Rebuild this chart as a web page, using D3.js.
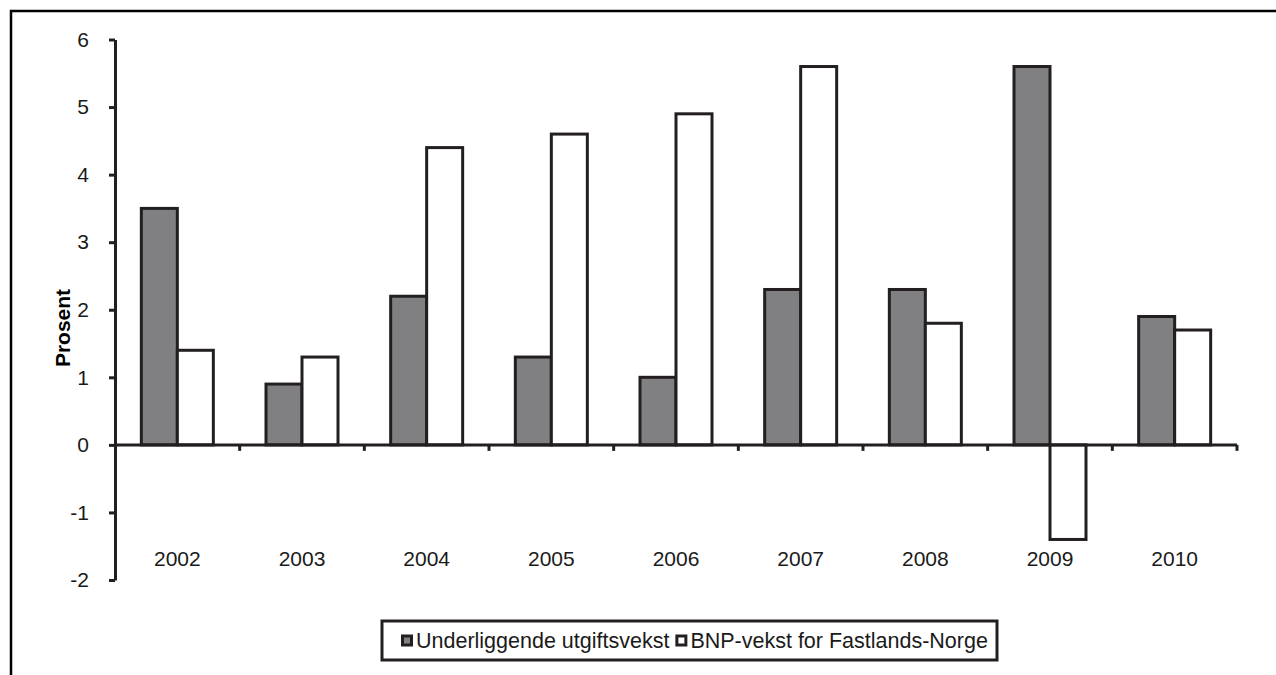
<!DOCTYPE html>
<html>
<head>
<meta charset="utf-8">
<script src="https://cdn.jsdelivr.net/npm/d3@7"></script>
<style>
  body { margin: 0; background: #fff; }
  svg { display: block; font-family: "Liberation Sans", Arial, sans-serif; }
</style>
</head>
<body>
<div class="main"></div>
<script>
// data
const years = ["2002", "2003", "2004", "2005", "2006", "2007", "2008", "2009", "2010"];
const utgiftsvekst = [3.5, 0.9, 2.2, 1.3, 1.0, 2.3, 2.3, 5.6, 1.9];
const bnpVekst = [1.4, 1.3, 4.4, 4.6, 4.9, 5.6, 1.8, -1.4, 1.7];
const seriesNames = ["Underliggende utgiftsvekst", "BNP-vekst for Fastlands-Norge"];
const yTicks = [-2, -1, 0, 1, 2, 3, 4, 5, 6];

const w = 1276;
const h = 675;
const ink = "#231f20";
const colors = ["#808083", "#ffffff"];
const fs = 21;

const svg = d3.select(".main")
  .append("svg")
  .attr("width", w)
  .attr("height", h);

// outer frame (left + top only, like the cropped original)
svg.append("path")
  .attr("d", "M11,675 V11 H1276")
  .attr("fill", "none")
  .attr("stroke", "#000")
  .attr("stroke-width", 2.5);

//scaling
const xScale = d3.scaleBand()
  .domain(years)
  .range([115, 1237]);

const yScale = d3.scaleLinear()
  .domain([-2, 6])
  .range([580, 39.5]);

const inner = d3.scaleBand()
  .domain([0, 1])
  .range([0, 72]);
const groupOffset = (xScale.bandwidth() - 72) / 2;

const data = years.map((y, i) => ({ year: y, vals: [utgiftsvekst[i], bnpVekst[i]] }));

// bars
const groups = svg.selectAll(".grp")
  .data(data)
  .enter()
  .append("g")
  .attr("transform", d => "translate(" + (xScale(d.year) + groupOffset) + ",0)");

groups.selectAll("rect")
  .data(d => d.vals.map((v, k) => ({ v: v, k: k })))
  .enter()
  .append("rect")
  .attr("x", d => inner(d.k))
  .attr("width", inner.bandwidth())
  .attr("y", d => yScale(Math.max(0, d.v)))
  .attr("height", d => Math.abs(yScale(d.v) - yScale(0)))
  .attr("fill", d => colors[d.k])
  .attr("stroke", ink)
  .attr("stroke-width", 3);

// y axis
const yAxis = d3.axisLeft(yScale)
  .tickValues(yTicks)
  .tickFormat(d => String(d))
  .tickSizeInner(6)
  .tickSizeOuter(0)
  .tickPadding(20);

const gy = svg.append("g")
  .attr("transform", "translate(115,0)")
  .call(yAxis);
gy.attr("font-size", fs).attr("font-family", "Liberation Sans, Arial, sans-serif");
gy.select(".domain").attr("stroke", ink).attr("stroke-width", 3);
gy.selectAll(".tick line").attr("stroke", ink).attr("stroke-width", 3);
gy.selectAll(".tick text").attr("fill", "#1a1a1a");

// x axis at zero, ticks between categories
const bounds = years.map(y => xScale(y) + xScale.bandwidth());
const gx = svg.append("g");
gx.append("line")
  .attr("x1", 115)
  .attr("x2", xScale.range()[1])
  .attr("y1", yScale(0))
  .attr("y2", yScale(0))
  .attr("stroke", ink)
  .attr("stroke-width", 3);
gx.selectAll(".xt")
  .data(bounds)
  .enter()
  .append("line")
  .attr("x1", d => d)
  .attr("x2", d => d)
  .attr("y1", yScale(0))
  .attr("y2", yScale(0) + 6)
  .attr("stroke", ink)
  .attr("stroke-width", 3);

svg.selectAll(".yearlabel")
  .data(years)
  .enter()
  .append("text")
  .attr("x", d => xScale(d) + xScale.bandwidth() / 2)
  .attr("y", 566)
  .attr("text-anchor", "middle")
  .attr("font-size", fs)
  .attr("fill", "#1a1a1a")
  .text(d => d);

// y title
svg.append("text")
  .attr("transform", "translate(70,328) rotate(-90)")
  .attr("text-anchor", "middle")
  .attr("font-size", 21)
  .attr("font-weight", "bold")
  .text("Prosent");

// legend
const lg = svg.append("g");
lg.append("rect")
  .attr("x", 382)
  .attr("y", 621)
  .attr("width", 615)
  .attr("height", 39)
  .attr("fill", "#fff")
  .attr("stroke", ink)
  .attr("stroke-width", 3);

let lx = 401;
seriesNames.forEach((name, k) => {
  lg.append("rect")
    .attr("x", lx + 1.5)
    .attr("y", 636)
    .attr("width", 9)
    .attr("height", 9)
    .attr("fill", colors[k])
    .attr("stroke", ink)
    .attr("stroke-width", 3);
  const t = lg.append("text")
    .attr("x", lx + 15)
    .attr("y", 648)
    .attr("font-size", 21.5)
    .attr("fill", "#1a1a1a")
    .text(name);
  lx = lx + 15 + t.node().getComputedTextLength() + 6;
});
</script>
</body>
</html>
